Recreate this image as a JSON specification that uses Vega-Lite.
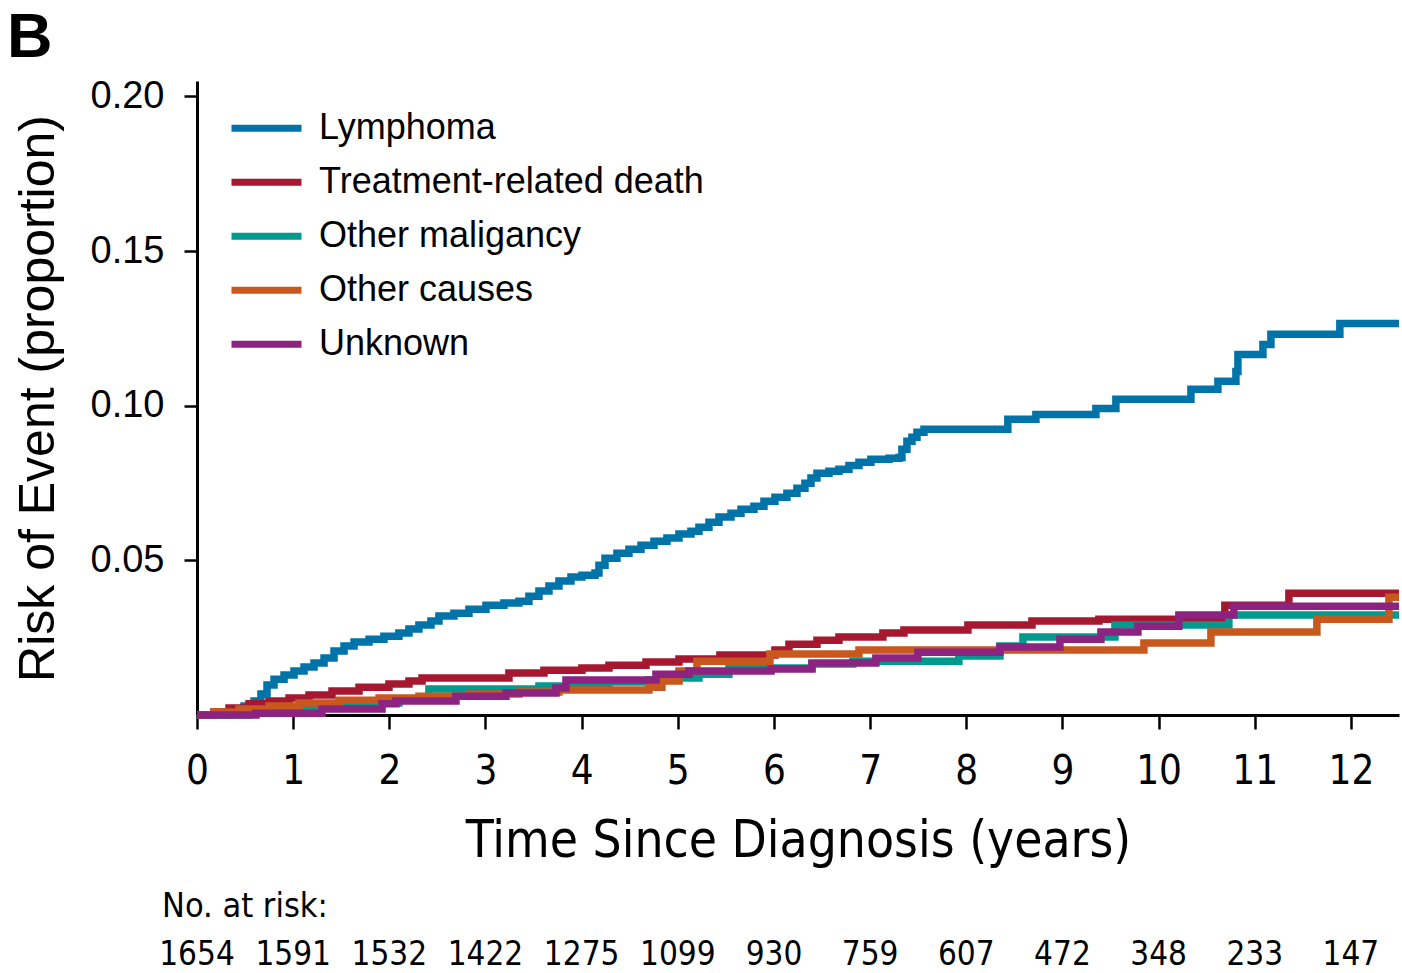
{
  "$schema": "https://vega.github.io/schema/vega-lite/v6.json",
  "background": "white",
  "padding": {"left": 7, "top": 7, "right": 0, "bottom": 0},
  "bounds": "flush",
  "spacing": 222,
  "title": {"text": "B", "anchor": "start", "frame": "bounds", "dx": -6, "fontSize": 63, "fontWeight": "bold", "font": "Liberation Sans", "color": "black", "offset": 7},
  "config": {"view": {"stroke": null}},
  "datasets": {
    "curves": [
      {"cause": "Lymphoma", "t": 0, "risk": 0},
      {"cause": "Lymphoma", "t": 0.281, "risk": 0.0006},
      {"cause": "Lymphoma", "t": 0.385, "risk": 0.0016},
      {"cause": "Lymphoma", "t": 0.489, "risk": 0.0029},
      {"cause": "Lymphoma", "t": 0.593, "risk": 0.0045},
      {"cause": "Lymphoma", "t": 0.665, "risk": 0.0068},
      {"cause": "Lymphoma", "t": 0.728, "risk": 0.0097},
      {"cause": "Lymphoma", "t": 0.801, "risk": 0.0116},
      {"cause": "Lymphoma", "t": 0.905, "risk": 0.0129},
      {"cause": "Lymphoma", "t": 1.009, "risk": 0.0142},
      {"cause": "Lymphoma", "t": 1.113, "risk": 0.0155},
      {"cause": "Lymphoma", "t": 1.217, "risk": 0.0168},
      {"cause": "Lymphoma", "t": 1.321, "risk": 0.0184},
      {"cause": "Lymphoma", "t": 1.425, "risk": 0.0207},
      {"cause": "Lymphoma", "t": 1.529, "risk": 0.0223},
      {"cause": "Lymphoma", "t": 1.633, "risk": 0.0236},
      {"cause": "Lymphoma", "t": 1.789, "risk": 0.0245},
      {"cause": "Lymphoma", "t": 1.944, "risk": 0.0255},
      {"cause": "Lymphoma", "t": 2.1, "risk": 0.0265},
      {"cause": "Lymphoma", "t": 2.204, "risk": 0.0278},
      {"cause": "Lymphoma", "t": 2.308, "risk": 0.0291},
      {"cause": "Lymphoma", "t": 2.433, "risk": 0.0304},
      {"cause": "Lymphoma", "t": 2.516, "risk": 0.032},
      {"cause": "Lymphoma", "t": 2.672, "risk": 0.0329},
      {"cause": "Lymphoma", "t": 2.828, "risk": 0.0342},
      {"cause": "Lymphoma", "t": 3.005, "risk": 0.0355},
      {"cause": "Lymphoma", "t": 3.192, "risk": 0.0362},
      {"cause": "Lymphoma", "t": 3.348, "risk": 0.0368},
      {"cause": "Lymphoma", "t": 3.452, "risk": 0.0384},
      {"cause": "Lymphoma", "t": 3.556, "risk": 0.0401},
      {"cause": "Lymphoma", "t": 3.66, "risk": 0.0417},
      {"cause": "Lymphoma", "t": 3.764, "risk": 0.0433},
      {"cause": "Lymphoma", "t": 3.889, "risk": 0.0446},
      {"cause": "Lymphoma", "t": 4.003, "risk": 0.0452},
      {"cause": "Lymphoma", "t": 4.139, "risk": 0.0459},
      {"cause": "Lymphoma", "t": 4.18, "risk": 0.0484},
      {"cause": "Lymphoma", "t": 4.243, "risk": 0.0507},
      {"cause": "Lymphoma", "t": 4.367, "risk": 0.0523},
      {"cause": "Lymphoma", "t": 4.492, "risk": 0.0536},
      {"cause": "Lymphoma", "t": 4.617, "risk": 0.0549},
      {"cause": "Lymphoma", "t": 4.752, "risk": 0.0562},
      {"cause": "Lymphoma", "t": 4.887, "risk": 0.0572},
      {"cause": "Lymphoma", "t": 5.012, "risk": 0.0585},
      {"cause": "Lymphoma", "t": 5.137, "risk": 0.0594},
      {"cause": "Lymphoma", "t": 5.22, "risk": 0.0607},
      {"cause": "Lymphoma", "t": 5.324, "risk": 0.0623},
      {"cause": "Lymphoma", "t": 5.428, "risk": 0.064},
      {"cause": "Lymphoma", "t": 5.553, "risk": 0.0652},
      {"cause": "Lymphoma", "t": 5.657, "risk": 0.0665},
      {"cause": "Lymphoma", "t": 5.792, "risk": 0.0675},
      {"cause": "Lymphoma", "t": 5.896, "risk": 0.0691},
      {"cause": "Lymphoma", "t": 6.01, "risk": 0.0704},
      {"cause": "Lymphoma", "t": 6.135, "risk": 0.0717},
      {"cause": "Lymphoma", "t": 6.239, "risk": 0.0733},
      {"cause": "Lymphoma", "t": 6.322, "risk": 0.0749},
      {"cause": "Lymphoma", "t": 6.385, "risk": 0.0766},
      {"cause": "Lymphoma", "t": 6.447, "risk": 0.0782},
      {"cause": "Lymphoma", "t": 6.572, "risk": 0.0788},
      {"cause": "Lymphoma", "t": 6.676, "risk": 0.0795},
      {"cause": "Lymphoma", "t": 6.78, "risk": 0.0807},
      {"cause": "Lymphoma", "t": 6.884, "risk": 0.0817},
      {"cause": "Lymphoma", "t": 7.008, "risk": 0.0827},
      {"cause": "Lymphoma", "t": 7.196, "risk": 0.083},
      {"cause": "Lymphoma", "t": 7.3, "risk": 0.0833},
      {"cause": "Lymphoma", "t": 7.331, "risk": 0.0859},
      {"cause": "Lymphoma", "t": 7.383, "risk": 0.0885},
      {"cause": "Lymphoma", "t": 7.435, "risk": 0.0898},
      {"cause": "Lymphoma", "t": 7.487, "risk": 0.0914},
      {"cause": "Lymphoma", "t": 7.56, "risk": 0.0924},
      {"cause": "Lymphoma", "t": 8.432, "risk": 0.0956},
      {"cause": "Lymphoma", "t": 8.724, "risk": 0.0972},
      {"cause": "Lymphoma", "t": 9.348, "risk": 0.0991},
      {"cause": "Lymphoma", "t": 9.556, "risk": 0.1021},
      {"cause": "Lymphoma", "t": 10.336, "risk": 0.1053},
      {"cause": "Lymphoma", "t": 10.617, "risk": 0.1079},
      {"cause": "Lymphoma", "t": 10.804, "risk": 0.1111},
      {"cause": "Lymphoma", "t": 10.825, "risk": 0.1166},
      {"cause": "Lymphoma", "t": 11.085, "risk": 0.1198},
      {"cause": "Lymphoma", "t": 11.168, "risk": 0.1231},
      {"cause": "Lymphoma", "t": 11.885, "risk": 0.1266},
      {"cause": "Lymphoma", "t": 12.5, "risk": 0.1266},

      {"cause": "Treatment-related death", "t": 0, "risk": 0},
      {"cause": "Treatment-related death", "t": 0.177, "risk": 0.001},
      {"cause": "Treatment-related death", "t": 0.333, "risk": 0.0023},
      {"cause": "Treatment-related death", "t": 0.541, "risk": 0.0036},
      {"cause": "Treatment-related death", "t": 0.749, "risk": 0.0045},
      {"cause": "Treatment-related death", "t": 0.957, "risk": 0.0055},
      {"cause": "Treatment-related death", "t": 1.165, "risk": 0.0065},
      {"cause": "Treatment-related death", "t": 1.404, "risk": 0.0078},
      {"cause": "Treatment-related death", "t": 1.685, "risk": 0.009},
      {"cause": "Treatment-related death", "t": 1.996, "risk": 0.01},
      {"cause": "Treatment-related death", "t": 2.204, "risk": 0.011},
      {"cause": "Treatment-related death", "t": 2.34, "risk": 0.012},
      {"cause": "Treatment-related death", "t": 3.244, "risk": 0.0136},
      {"cause": "Treatment-related death", "t": 3.608, "risk": 0.0145},
      {"cause": "Treatment-related death", "t": 4.003, "risk": 0.0152},
      {"cause": "Treatment-related death", "t": 4.284, "risk": 0.0161},
      {"cause": "Treatment-related death", "t": 4.669, "risk": 0.0171},
      {"cause": "Treatment-related death", "t": 5.012, "risk": 0.0181},
      {"cause": "Treatment-related death", "t": 5.438, "risk": 0.0194},
      {"cause": "Treatment-related death", "t": 6.01, "risk": 0.021},
      {"cause": "Treatment-related death", "t": 6.156, "risk": 0.0229},
      {"cause": "Treatment-related death", "t": 6.447, "risk": 0.0242},
      {"cause": "Treatment-related death", "t": 6.676, "risk": 0.0252},
      {"cause": "Treatment-related death", "t": 7.133, "risk": 0.0265},
      {"cause": "Treatment-related death", "t": 7.352, "risk": 0.0275},
      {"cause": "Treatment-related death", "t": 8.017, "risk": 0.0291},
      {"cause": "Treatment-related death", "t": 8.683, "risk": 0.0304},
      {"cause": "Treatment-related death", "t": 9.379, "risk": 0.031},
      {"cause": "Treatment-related death", "t": 10.689, "risk": 0.0355},
      {"cause": "Treatment-related death", "t": 11.355, "risk": 0.0394},
      {"cause": "Treatment-related death", "t": 12.5, "risk": 0.0394},

      {"cause": "Other maligancy", "t": 0, "risk": 0},
      {"cause": "Other maligancy", "t": 0.541, "risk": 0.0013},
      {"cause": "Other maligancy", "t": 1.061, "risk": 0.0026},
      {"cause": "Other maligancy", "t": 1.581, "risk": 0.0039},
      {"cause": "Other maligancy", "t": 2.1, "risk": 0.0052},
      {"cause": "Other maligancy", "t": 2.412, "risk": 0.0084},
      {"cause": "Other maligancy", "t": 3.556, "risk": 0.0094},
      {"cause": "Other maligancy", "t": 3.868, "risk": 0.01},
      {"cause": "Other maligancy", "t": 4.284, "risk": 0.0107},
      {"cause": "Other maligancy", "t": 4.7, "risk": 0.0113},
      {"cause": "Other maligancy", "t": 5.012, "risk": 0.012},
      {"cause": "Other maligancy", "t": 5.22, "risk": 0.0132},
      {"cause": "Other maligancy", "t": 5.532, "risk": 0.0152},
      {"cause": "Other maligancy", "t": 6.395, "risk": 0.0165},
      {"cause": "Other maligancy", "t": 6.821, "risk": 0.0174},
      {"cause": "Other maligancy", "t": 7.923, "risk": 0.0191},
      {"cause": "Other maligancy", "t": 8.35, "risk": 0.0223},
      {"cause": "Other maligancy", "t": 8.589, "risk": 0.0252},
      {"cause": "Other maligancy", "t": 9.546, "risk": 0.0291},
      {"cause": "Other maligancy", "t": 10.731, "risk": 0.0323},
      {"cause": "Other maligancy", "t": 12.5, "risk": 0.0323},

      {"cause": "Other causes", "t": 0, "risk": 0},
      {"cause": "Other causes", "t": 0.177, "risk": 0.001},
      {"cause": "Other causes", "t": 0.437, "risk": 0.0019},
      {"cause": "Other causes", "t": 0.749, "risk": 0.0029},
      {"cause": "Other causes", "t": 1.061, "risk": 0.0039},
      {"cause": "Other causes", "t": 1.477, "risk": 0.0048},
      {"cause": "Other causes", "t": 1.893, "risk": 0.0055},
      {"cause": "Other causes", "t": 2.308, "risk": 0.0061},
      {"cause": "Other causes", "t": 2.828, "risk": 0.0068},
      {"cause": "Other causes", "t": 3.348, "risk": 0.0074},
      {"cause": "Other causes", "t": 3.764, "risk": 0.0081},
      {"cause": "Other causes", "t": 4.7, "risk": 0.009},
      {"cause": "Other causes", "t": 4.835, "risk": 0.011},
      {"cause": "Other causes", "t": 5.012, "risk": 0.0142},
      {"cause": "Other causes", "t": 5.199, "risk": 0.0174},
      {"cause": "Other causes", "t": 5.958, "risk": 0.0197},
      {"cause": "Other causes", "t": 6.884, "risk": 0.021},
      {"cause": "Other causes", "t": 9.847, "risk": 0.0233},
      {"cause": "Other causes", "t": 10.544, "risk": 0.0268},
      {"cause": "Other causes", "t": 11.646, "risk": 0.031},
      {"cause": "Other causes", "t": 12.395, "risk": 0.0381},
      {"cause": "Other causes", "t": 12.5, "risk": 0.0381},

      {"cause": "Unknown", "t": 0, "risk": 0},
      {"cause": "Unknown", "t": 0.613, "risk": 0.0006},
      {"cause": "Unknown", "t": 1.3, "risk": 0.0019},
      {"cause": "Unknown", "t": 1.924, "risk": 0.0036},
      {"cause": "Unknown", "t": 2.069, "risk": 0.0045},
      {"cause": "Unknown", "t": 2.693, "risk": 0.0061},
      {"cause": "Unknown", "t": 3.213, "risk": 0.0071},
      {"cause": "Unknown", "t": 3.733, "risk": 0.0087},
      {"cause": "Unknown", "t": 3.837, "risk": 0.0113},
      {"cause": "Unknown", "t": 4.773, "risk": 0.0132},
      {"cause": "Unknown", "t": 5.116, "risk": 0.0142},
      {"cause": "Unknown", "t": 5.969, "risk": 0.0149},
      {"cause": "Unknown", "t": 6.395, "risk": 0.0168},
      {"cause": "Unknown", "t": 7.06, "risk": 0.0184},
      {"cause": "Unknown", "t": 7.497, "risk": 0.0203},
      {"cause": "Unknown", "t": 8.35, "risk": 0.022},
      {"cause": "Unknown", "t": 8.974, "risk": 0.0245},
      {"cause": "Unknown", "t": 9.4, "risk": 0.0268},
      {"cause": "Unknown", "t": 9.785, "risk": 0.0287},
      {"cause": "Unknown", "t": 10.211, "risk": 0.0323},
      {"cause": "Unknown", "t": 10.783, "risk": 0.0352},
      {"cause": "Unknown", "t": 12.5, "risk": 0.0352}
    ],
    "atrisk": [
      {"year": 0, "n": 1654}, {"year": 1, "n": 1591}, {"year": 2, "n": 1532},
      {"year": 3, "n": 1422}, {"year": 4, "n": 1275}, {"year": 5, "n": 1099},
      {"year": 6, "n": 930}, {"year": 7, "n": 759}, {"year": 8, "n": 607},
      {"year": 9, "n": 472}, {"year": 10, "n": 348}, {"year": 11, "n": 233},
      {"year": 12, "n": 147}
    ]
  },
  "vconcat": [
    {
      "width": 1202,
      "height": 634,
      "data": {"name": "curves"},
      "mark": {"type": "line", "interpolate": "step-after", "strokeWidth": 7.5},
      "encoding": {
        "x": {
          "field": "t", "type": "quantitative",
          "scale": {"domain": [0, 12.5], "nice": false, "zero": false},
          "axis": {
            "title": "Time Since Diagnosis (years)",
            "values": [0, 1, 2, 3, 4, 5, 6, 7, 8, 9, 10, 11, 12],
            "grid": false, "labelFlush": false, "labelOverlap": false,
            "domainColor": "black", "domainWidth": 3,
            "tickColor": "black", "tickWidth": 2.5, "tickSize": 14,
            "labelFont": "DejaVu Sans Condensed, DejaVu Sans, sans-serif",
            "labelFontSize": 40, "labelColor": "black", "labelPadding": 22,
            "titleFont": "DejaVu Sans Condensed, DejaVu Sans, sans-serif",
            "titleFontSize": 51, "titleFontWeight": "normal", "titleColor": "black", "titlePadding": 25
          }
        },
        "y": {
          "field": "risk", "type": "quantitative",
          "scale": {"domain": [0, 0.205], "nice": false},
          "axis": {
            "title": "Risk of Event (proportion)",
            "values": [0.05, 0.1, 0.15, 0.2], "format": ".2f",
            "grid": false,
            "domainColor": "black", "domainWidth": 3,
            "tickColor": "black", "tickWidth": 2.5, "tickSize": 13,
            "labelFont": "Liberation Sans", "labelFontSize": 38, "labelColor": "black", "labelPadding": 20,
            "titleFont": "Liberation Sans", "titleFontSize": 50, "titleFontWeight": "normal", "titleColor": "black", "titlePadding": 27
          }
        },
        "color": {
          "field": "cause", "type": "nominal",
          "scale": {
            "domain": ["Lymphoma", "Treatment-related death", "Other maligancy", "Other causes", "Unknown"],
            "range": ["#0073a8", "#a51830", "#009a8e", "#c8581e", "#8c2381"]
          },
          "legend": {
            "orient": "none", "legendX": 31, "legendY": 20.5, "title": null,
            "symbolType": "stroke", "symbolSize": 4900, "symbolStrokeWidth": 7,
            "labelFont": "Liberation Sans", "labelFontSize": 36, "labelColor": "black",
            "labelOffset": 14, "clipHeight": 53.5, "rowPadding": 0, "padding": 0, "labelLimit": 700
          }
        }
      }
    },
    {
      "width": 1202,
      "height": 36,
      "data": {"name": "atrisk"},
      "title": {
        "text": "No. at risk:", "anchor": "start", "frame": "group", "dx": -35, "offset": 13,
        "font": "DejaVu Sans Condensed, DejaVu Sans, sans-serif",
        "fontSize": 34, "fontWeight": "normal", "color": "black"
      },
      "mark": {"type": "text", "font": "DejaVu Sans Condensed, DejaVu Sans, sans-serif", "fontSize": 33, "color": "black"},
      "encoding": {
        "x": {"field": "year", "type": "quantitative", "scale": {"domain": [0, 12.5], "nice": false, "zero": false}, "axis": null},
        "text": {"field": "n", "type": "nominal"}
      }
    }
  ]
}
